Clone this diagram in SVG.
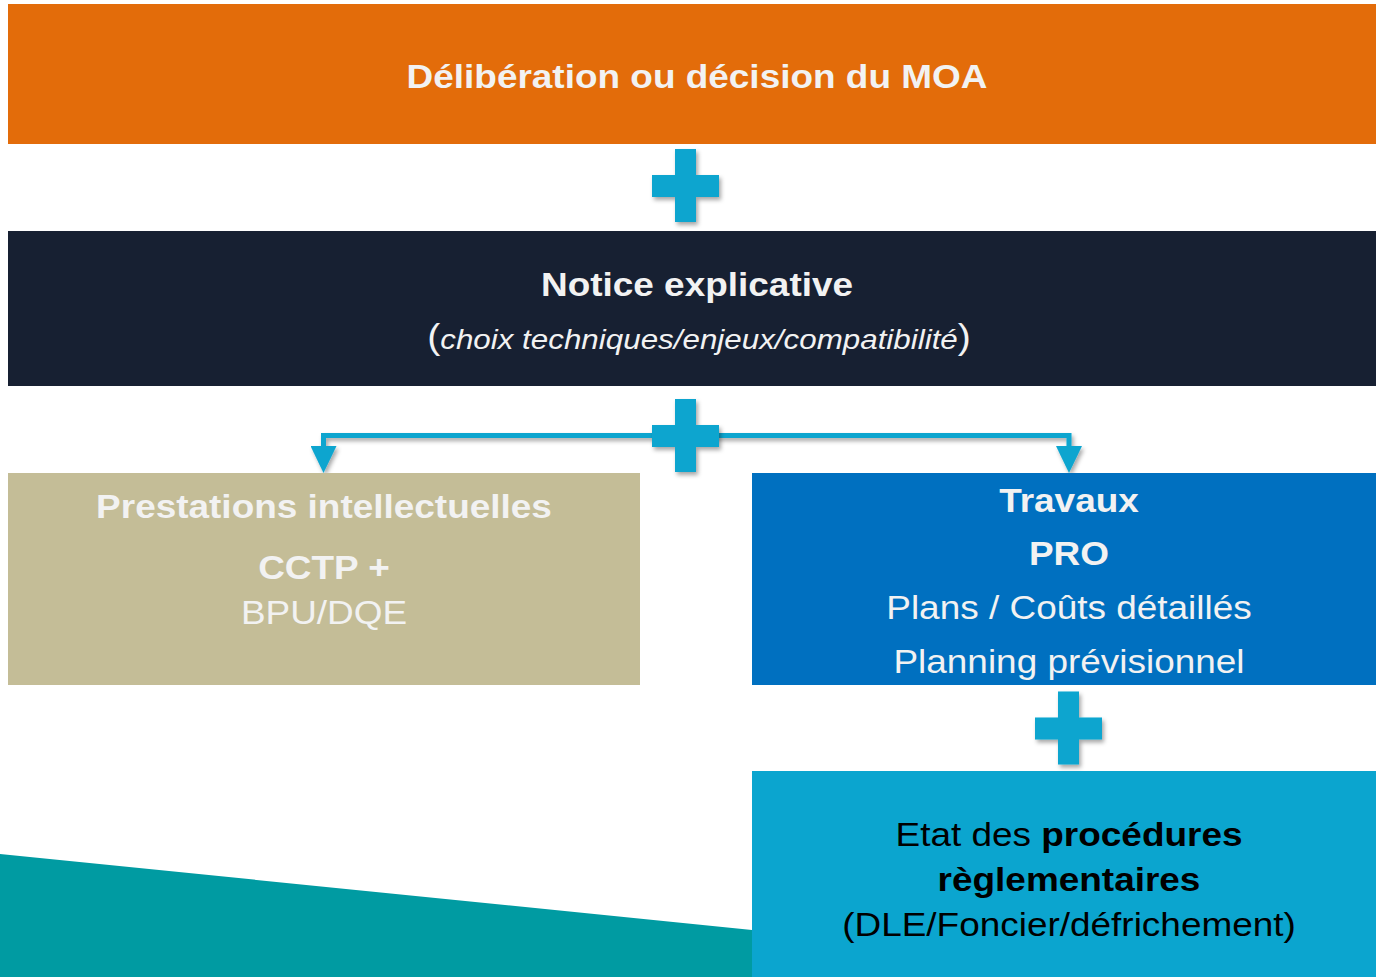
<svg xmlns="http://www.w3.org/2000/svg" width="1376" height="977" viewBox="0 0 1376 977">
<style>
  text { font-family: "Liberation Sans", Arial, sans-serif; text-anchor: middle; }
  .b { font-weight: bold; }
  .lt { fill: #F2F2F2; }
  .dk { fill: #000000; }
  .s33 { font-size: 33px; }
  .it { font-size: 28px; font-style: italic; }
  .par { font-size: 35px; font-style: normal; }
  .plus { fill: #0BA5CF; filter: url(#sh); }
  .conn { fill: none; stroke: #0BA5CF; stroke-width: 5; marker-end: url(#arr); filter: url(#sh); }
</style>
<defs>
  <filter id="sh" filterUnits="userSpaceOnUse" x="-2000" y="-2000" width="4000" height="4000">
    <feDropShadow dx="2" dy="3" stdDeviation="2" flood-color="#000" flood-opacity="0.35"/>
  </filter>
  <marker id="arr" viewBox="0 0 27 26" refX="0" refY="13" markerWidth="27" markerHeight="26" markerUnits="userSpaceOnUse" orient="auto">
    <path d="M0,0 L27,13 L0,26 Z" fill="#0BA5CF"/>
  </marker>
  <path id="plusShape" d="M-10.5,-36.5 H10.5 V-10.5 H33.5 V11.5 H10.5 V36.5 H-10.5 V11.5 H-33.5 V-10.5 H-10.5 Z"/>
</defs>
<rect width="1376" height="977" fill="#FFFFFF"/>
<polygon points="0,854 752,930 752,977 0,977" fill="#009BA2"/>

<g id="connectors">
  <path class="conn" d="M686,435.5 H323.5 V446"/>
  <path class="conn" d="M686,435.5 H1069 V446"/>
</g>

<g id="moa">
  <rect x="8" y="4" width="1368" height="140" fill="#E36C0A"/>
  <text class="b s33 lt" transform="translate(697,88) scale(1.12,1)">Délibération ou décision du MOA</text>
</g>

<g id="plus1"><use href="#plusShape" class="plus" transform="translate(685.5,185.5)"/></g>

<g id="notice">
  <rect x="8" y="231" width="1368" height="155" fill="#172032"/>
  <text class="b s33 lt" transform="translate(697,296) scale(1.12,1)">Notice explicative</text>
  <text class="it lt" transform="translate(699,349) scale(1.12,1)"><tspan class="par">(</tspan>choix techniques/enjeux/compatibilité<tspan class="par">)</tspan></text>
</g>

<g id="plus2"><use href="#plusShape" class="plus" transform="translate(685.5,435.5)"/></g>

<g id="prestations">
  <rect x="8" y="473" width="632" height="212" fill="#C4BD97"/>
  <text class="b s33 lt" transform="translate(324,518) scale(1.12,1)">Prestations intellectuelles</text>
  <text class="b s33 lt" transform="translate(324,579) scale(1.12,1)">CCTP +</text>
  <text class="s33 lt" transform="translate(324,624) scale(1.12,1)">BPU/DQE</text>
</g>

<g id="travaux">
  <rect x="752" y="473" width="624" height="212" fill="#0070C0"/>
  <text class="b s33 lt" transform="translate(1069,512) scale(1.12,1)">Travaux</text>
  <text class="b s33 lt" transform="translate(1069,565) scale(1.12,1)">PRO</text>
  <text class="s33 lt" transform="translate(1069,619) scale(1.12,1)">Plans / Coûts détaillés</text>
  <text class="s33 lt" transform="translate(1069,673) scale(1.12,1)">Planning prévisionnel</text>
</g>

<g id="plus3"><use href="#plusShape" class="plus" transform="translate(1068.5,728)"/></g>

<g id="procedures">
  <rect x="752" y="771" width="624" height="206" fill="#0BA5CF"/>
  <text class="s33 dk" transform="translate(1069,846) scale(1.12,1)">Etat des <tspan class="b">procédures</tspan></text>
  <text class="b s33 dk" transform="translate(1069,891) scale(1.12,1)">règlementaires</text>
  <text class="s33 dk" transform="translate(1069,936) scale(1.12,1)">(DLE/Foncier/défrichement)</text>
</g>
</svg>
